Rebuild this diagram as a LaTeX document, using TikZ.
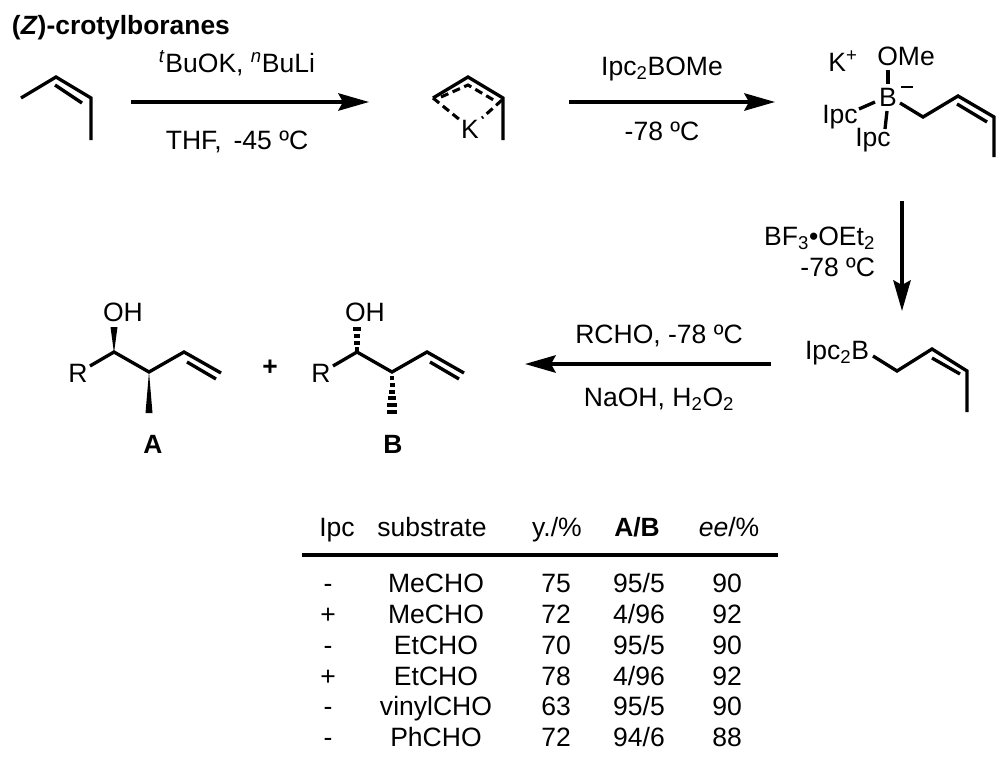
\documentclass[tikz,border=0pt]{standalone}
\usepackage{fontspec}
\setmainfont{Liberation Sans}
\usetikzlibrary{arrows.meta}
\newcommand{\fs}{\fontsize{19.9pt}{22pt}\selectfont}
\newcommand{\fb}{\fontsize{19.8pt}{22pt}\selectfont\bfseries}
\tikzset{
  bond/.style={line width=2.5pt,line cap=butt,line join=miter,black},
  rx/.style={line width=2.6pt,-{Stealth[length=23pt,width=13pt,inset=3.5pt]}},
  dbond/.style={line width=2.3pt,dash pattern=on 6pt off 3.5pt},
  lab/.style={inner sep=0pt,outer sep=0pt,font=\fs,anchor=base},
  blab/.style={inner sep=0pt,outer sep=0pt,font=\fb,anchor=base},
  wedgeb/.style={fill=black,draw=none},
  hashb/.style={line width=2.3pt}
}
\begin{document}
\begin{tikzpicture}[x=0.75pt,y=-0.75pt]
\useasboundingbox[fill=white] (0,0) rectangle (1002,767);
% title
\node[blab,anchor=base west] (title) at (12,35) {(\textit{Z})-crotylboranes};
% butene
\draw[bond] (21,98) -- (56,77) -- (91,98) -- (91,140);
\draw[bond] (55,85) -- (82,103);
% arrow 1
\coordinate (a1s) at (131,102); \coordinate (a1e) at (369,102);
\draw[rx] (a1s) -- (a1e);
\node[lab] (r1) at (237,73) {\textsuperscript{\textit{t}}BuOK, \textsuperscript{\textit{n}}BuLi};
\node[lab] (r2) at (237,149.5) {THF, \,-45 ºC};
% allyl K
\draw[bond] (433,98) -- (468,77) -- (503,98) -- (503,140);
\draw[dbond] (441,97) -- (468,85) -- (497,102);
\draw[dbond] (433,98) -- (460,120);
\draw[dbond] (502,100) -- (482,118);
\node[lab] (k) at (470,138) {K};
% arrow 2
\coordinate (a2s) at (569,102); \coordinate (a2e) at (775,102);
\draw[rx] (a2s) -- (a2e);
\node[lab] (r3) at (662,75) {Ipc\textsubscript{2}BOMe};
\node[lab] (r4) at (662,140) {-78 ºC};
% borate
\node[lab] (kp) at (843,72) {K\textsuperscript{+}};
\node[lab] (ome) at (906,65) {OMe};
\node[lab] (bo) at (888,106) {B};
\node[lab] (ip1) at (840,123) {Ipc};
\node[lab] (ip2) at (873,146) {Ipc};
\draw[bond,line width=1.6pt] (901,87) -- (913,87);
\draw[bond] (888,70) -- (888,84);
\draw[bond] (875,102) -- (859,109);
\draw[bond] (887,111) -- (885,129);
\draw[bond] (900,103) -- (923,117) -- (958,96) -- (994,117) -- (994,157);
\draw[bond] (957,104) -- (987,122);
% arrow 3
\coordinate (a3s) at (902,201); \coordinate (a3e) at (902,311);
\draw[rx] (a3s) -- (a3e);
\node[lab,anchor=base east] (r5) at (875,245) {BF\textsubscript{3}•OEt\textsubscript{2}};
\node[lab,anchor=base east] (r6) at (875,276) {-78 ºC};
% ipc2B
\node[lab,anchor=base west] (ipb) at (805,359) {Ipc\textsubscript{2}B};
\draw[bond] (873,356) -- (897,371) -- (932,349) -- (967,371) -- (967,412);
\draw[bond] (932,358) -- (960,374);
% arrow 4
\coordinate (a4s) at (771,364); \coordinate (a4e) at (525,364);
\draw[rx] (a4s) -- (a4e);
\node[lab] (r7) at (659,343) {RCHO, -78 ºC};
\node[lab] (r8) at (659,406) {NaOH, H\textsubscript{2}O\textsubscript{2}};
% A
\node[lab] (oha) at (123,321) {OH};
\node[lab] (ra) at (78,382) {R};
\draw[bond] (90,366) -- (114,352) -- (149,372) -- (184,352) -- (221,373);
\draw[bond] (187,362) -- (216,379);
\fill[wedgeb] (114,353) -- (110.5,327) -- (117.5,327) -- cycle;
\fill[wedgeb] (149,372) -- (145.5,413) -- (152.5,413) -- cycle;
\node[blab] (la) at (153,453) {A};
% plus
\node[blab] (pl) at (270,375) {+};
% B
\node[lab] (ohb) at (365,321) {OH};
\node[lab] (rb) at (321,382) {R};
\draw[bond] (333,366) -- (357,352) -- (392,372) -- (427,352) -- (464,373);
\draw[bond] (430,362) -- (459,379);
\foreach \y/\w in {329/3.8,336/3.2,343/2.6,349/1.8}
  \draw[hashb] (357-\w,\y) -- (357+\w,\y);
\foreach \y/\w in {378/1.8,385/2.5,392/3.2,398/3.9,405/4.6,412/5.3}
  \draw[hashb] (392-\w,\y) -- (392+\w,\y);
\node[blab] (lb) at (393,453) {B};
% table
\coordinate (rs) at (302,555); \coordinate (re) at (778,555);
\draw[line width=3.5pt] (rs) -- (re);
\node[lab] (h1) at (337,536) {Ipc};
\node[lab] (h2) at (432,536) {substrate};
\node[lab] (h3) at (557,536) {y./\%};
\node[blab] (h4) at (637,536) {A/B};
\node[lab] (h5) at (729,536) {\textit{ee}/\%};
\newcommand{\trow}[7]{%
  \node[lab] (c1#1) at (328,#2) {#3};
  \node[lab] (c2#1) at (436,#2) {#4};
  \node[lab] (c3#1) at (556,#2) {#5};
  \node[lab] (c4#1) at (639,#2) {#6};
  \node[lab] (c5#1) at (727,#2) {#7};
}
\trow{a}{592}{-}{MeCHO}{75}{95/5}{90}
\trow{b}{623}{+}{MeCHO}{72}{4/96}{92}
\trow{c}{654}{-}{EtCHO}{70}{95/5}{90}
\trow{d}{685}{+}{EtCHO}{78}{4/96}{92}
\trow{e}{715}{-}{vinylCHO}{63}{95/5}{90}
\trow{f}{746}{-}{PhCHO}{72}{94/6}{88}
\end{tikzpicture}
\end{document}
